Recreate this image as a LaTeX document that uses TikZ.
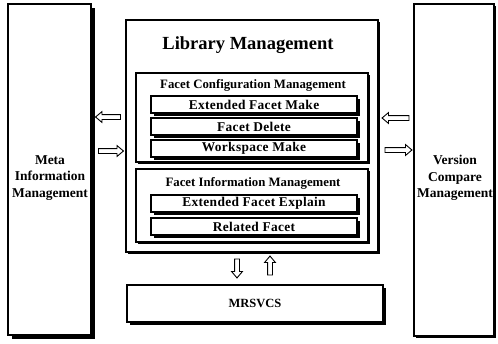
\documentclass[tikz,border=0pt]{standalone}
\usepackage{fontspec}
\setmainfont{Liberation Serif}
\usetikzlibrary{shapes.arrows,shadows}

\tikzset{
  box/.style={draw, line width=1.2pt, fill=white, inner sep=0pt, outer sep=0pt},
  shade/.style={drop shadow={shadow xshift=#1, shadow yshift=-#1, fill=black, opacity=1}},
  bar/.style={box, shade=3pt, minimum width=206pt, minimum height=17pt,
    font=\bfseries\fontsize{13.4}{15}\selectfont\addfontfeatures{LetterSpace=2.5}},
  titletext/.style={font=\bfseries\fontsize{12.8}{15}\selectfont, inner sep=0pt},
  sidetext/.style={font=\bfseries\fontsize{13.5}{16.5}\selectfont, align=center, inner sep=0pt},
  hollow/.style={single arrow, draw, line width=0.9pt, fill=white, inner sep=2pt,
    text height=0pt, text depth=0pt, text width=0pt,
    single arrow head extend=3pt, single arrow tip angle=80, minimum height=#1}
}

\begin{document}
\begin{tikzpicture}[x=1pt, y=-1pt]
  \useasboundingbox (0,0) rectangle (498,343);

  % side modules
  \node[box, shade=4pt, minimum width=83pt, minimum height=331pt] (meta) at (49.5,169.5) {};
  \node[sidetext] (metaText) at (50,178) {Meta\\Information\\Management};
  \node[box, shade=2pt, minimum width=80pt, minimum height=332pt] (version) at (454,170) {};
  \node[sidetext] (versionText) at (455,178) {Version\\Compare\\Management};

  % central library management block
  \node[box, shade=2pt, minimum width=252pt, minimum height=232pt] (lib) at (252,136) {};
  \node[font=\bfseries\fontsize{18.5}{21}\selectfont, inner sep=0pt] (libTitle) at (248,45) {Library Management};

  \node[box, shade=1.5pt, minimum width=232pt, minimum height=89pt] (cfg) at (252,117.5) {};
  \node[titletext] (cfgTitle) at (253,85) {Facet Configuration Management};
  \node[bar] (efm) at (254,104.5) {Extended Facet Make};
  \node[bar] (fd)  at (254,126.5) {Facet Delete};
  \node[bar] (wm)  at (254,148.5) {Workspace Make};

  \node[box, shade=1.5pt, minimum width=232pt, minimum height=73pt] (info) at (252,205.5) {};
  \node[titletext] (infoTitle) at (253,183) {Facet Information Management};
  \node[bar] (efe) at (254,203.5) {Extended Facet Explain};
  \node[bar] (rf)  at (254,226.5) {Related Facet};

  % storage layer
  \node[box, shade=3pt, minimum width=256pt, minimum height=37pt,
        font=\bfseries\fontsize{12.5}{15}\selectfont] (mrsvcs) at (255,303.5) {MRSVCS};

  % hollow block arrows between the modules
  \node[hollow=25pt, shape border rotate=180] (metaIn)  at (109.5,117) {};
  \node[hollow=25pt] (metaOut) at (109.5,151) {};
  \node[hollow=27pt, shape border rotate=180] (verIn)  at (397,118) {};
  \node[hollow=27pt] (verOut) at (397,150) {};
  \node[hollow=19pt, shape border rotate=270] (down) at (237,267) {};
  \node[hollow=19pt, shape border rotate=90]  (up)   at (270,267) {};
\end{tikzpicture}
\end{document}
